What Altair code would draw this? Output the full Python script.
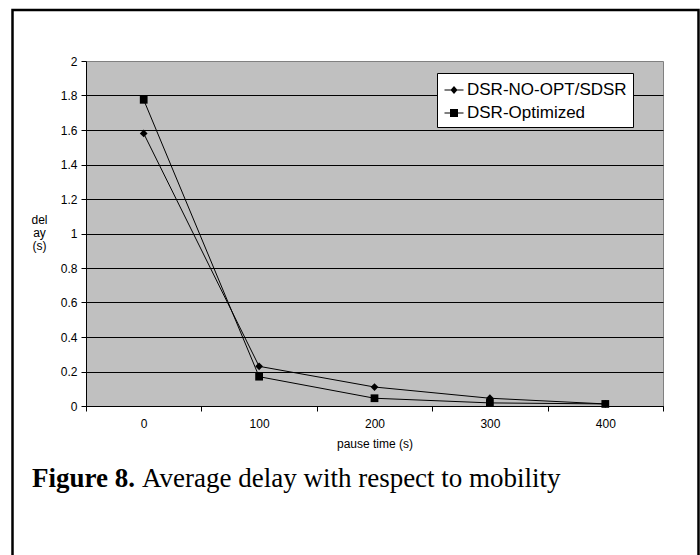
import altair as alt
import pandas as pd

# ---- data ----
pause_times = [0, 100, 200, 300, 400]
series_names = ["DSR-NO-OPT/SDSR", "DSR-Optimized"]
delay_noopt = [1.58, 0.23, 0.11, 0.045, 0.012]
delay_opt = [1.775, 0.17, 0.045, 0.018, 0.012]
y_ticks = [0, 0.2, 0.4, 0.6, 0.8, 1.0, 1.2, 1.4, 1.6, 1.8, 2.0]
x_ticks = [-50, 50, 150, 250, 350, 450, 0, 100, 200, 300, 400]
x_title = "pause time (s)"
y_title = ["del", "ay", "(s)"]
caption_bold = "Figure 8."
caption_rest = "Average delay with respect to mobility"

rows = []
for name, vals in zip(series_names, [delay_noopt, delay_opt]):
    for p, v in zip(pause_times, vals):
        rows.append({"pause": p, "delay": v, "series": name})
df = pd.DataFrame(rows)

FONT = "Liberation Sans"
SERIF = "Liberation Serif"

x_enc = alt.X(
    "pause:Q",
    scale=alt.Scale(domain=[-50, 450], nice=False, zero=False),
    axis=alt.Axis(
        title=x_title,
        values=x_ticks,
        tickCount=30,
        grid=False,
        labelExpr="(datum.value % 100 === 0 && datum.value >= 0 && datum.value <= 400) ? datum.label : ''",
        tickOpacity={"condition": {"test": "datum.value % 100 === 0", "value": 0}, "value": 1},
        labelOverlap=False,
        labelFlush=False,
        tickSize=5,
        labelPadding=7,
        titlePadding=9,
        domainColor="black",
        tickColor="black",
        labelColor="black",
        titleColor="black",
        labelFont=FONT,
        titleFont=FONT,
        labelFontSize=12,
        titleFontSize=12,
        titleFontWeight="normal",
    ),
)
y_enc = alt.Y(
    "delay:Q",
    scale=alt.Scale(domain=[0, 2], nice=False),
    axis=alt.Axis(
        title=y_title,
        values=y_ticks,
        tickCount=30,
        format="~g",
        grid=True,
        gridColor="black",
        gridWidth=1,
        gridOpacity={"condition": {"test": "datum.value >= 1.99", "value": 0}, "value": 1},
        labelOverlap=False,
        tickSize=5,
        labelPadding=4,
        domainColor="black",
        tickColor="black",
        labelColor="black",
        titleColor="black",
        labelFont=FONT,
        titleFont=FONT,
        labelFontSize=12,
        titleFontSize=12,
        titleFontWeight="normal",
        titleAngle=0,
        titleAlign="center",
        titleBaseline="middle",
        titleX=-47,
        titleY=158,
        titleLineHeight=13,
    ),
)

base = alt.Chart(df)

lines = base.mark_line(color="black", strokeWidth=1).encode(
    x=x_enc, y=y_enc, detail="series:N"
)

points = base.mark_point(filled=True, color="black", opacity=1, size=60).encode(
    x="pause:Q",
    y="delay:Q",
    shape=alt.Shape(
        "series:N",
        scale=alt.Scale(domain=series_names, range=["diamond", "square"]),
        legend=None,
    ),
)

# legend glyphs: short line with the marker on it
legend_paths = [
    "M-0.95,-0.05H0.95V0.05H-0.95Z M0,-0.4L0.35,0L0,0.4L-0.35,0Z",
    "M-0.95,-0.05H0.95V0.05H-0.95Z M-0.4,-0.4H0.4V0.4H-0.4Z",
]
legend_layer = base.transform_filter("datum.pause < -1000").mark_point(
    filled=True, color="black", opacity=1
).encode(
    x="pause:Q",
    y="delay:Q",
    shape=alt.Shape(
        "series:N",
        scale=alt.Scale(domain=series_names, range=legend_paths),
        legend=alt.Legend(
            title=None,
            orient="none",
            legendX=351,
            legendY=12,
            fillColor="white",
            strokeColor="black",
            padding=6,
            rowPadding=4,
            labelOffset=2,
            symbolSize=400,
            symbolFillColor="black",
            symbolOpacity=1,
            labelFont=FONT,
            labelFontSize=17,
            labelColor="black",
            labelExpr="datum.label + ' '",
            labelLimit=0,
        ),
    ),
)

frame_df = pd.DataFrame({"k": [1]})
frame = alt.Chart(frame_df).mark_rect(
    fill=None, stroke="black", strokeWidth=2.5, clip=False
).encode(
    x=alt.value(-73.5), x2=alt.value(612.5), y=alt.value(-51), y2=alt.value(520)
)

cap1 = alt.Chart(pd.DataFrame({"t": [caption_bold]})).mark_text(
    font=SERIF, fontSize=27, fontWeight="bold", align="left", baseline="alphabetic", color="black"
).encode(text="t:N", x=alt.value(-54), y=alt.value(426))

cap2 = alt.Chart(pd.DataFrame({"t": [caption_rest]})).mark_text(
    font=SERIF, fontSize=27, align="left", baseline="alphabetic", color="black"
).encode(text="t:N", x=alt.value(56), y=alt.value(426))

chart = (
    alt.layer(lines, points, legend_layer, frame, cap1, cap2)
    .resolve_scale(shape="independent")
    .properties(
        width=577,
        height=345,
        autosize=alt.AutoSizeParams(type="none"),
        padding={"left": 86, "top": 61, "right": 37, "bottom": 149},
        background="white",
    )
    .configure_view(fill="#C0C0C0", stroke="#808080", strokeWidth=1)
)

chart.save("out.html", embed_options={"renderer": "svg", "actions": False})
